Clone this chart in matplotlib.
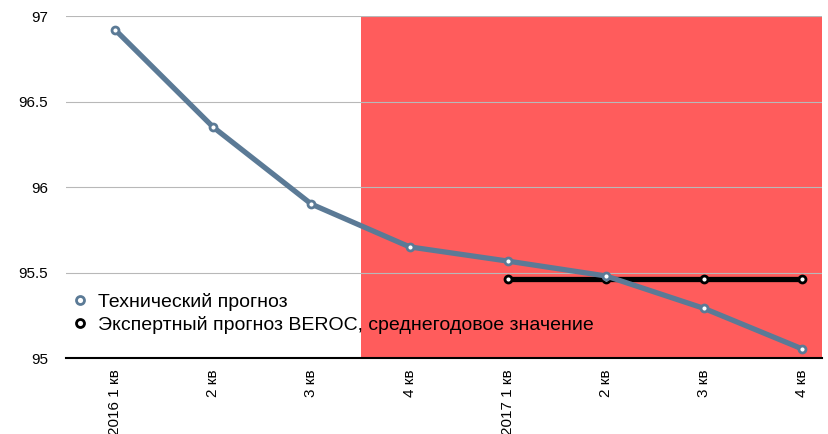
import matplotlib.pyplot as plt

plt.rcParams['font.family'] = ['Liberation Sans', 'DejaVu Sans']

labels = ['2016 1 кв', '2 кв', '3 кв', '4 кв', '2017 1 кв', '2 кв', '3 кв', '4 кв']
tech = [96.92, 96.35, 95.90, 95.65, 95.567, 95.48, 95.29, 95.053]
beroc_x = [4, 5, 6, 7]
beroc = [95.46, 95.46, 95.46, 95.46]

fig = plt.figure(figsize=(8.29, 4.34), dpi=100)
ax = fig.add_axes([0.0796, 0.175, 0.912, 0.788])

ax.axvspan(2.5, 7.2, color='#ff5c5c', zorder=0, lw=0)
for v in [95.5, 96, 96.5, 97]:
    ax.axhline(v, color='#b8b8b8', lw=0.8, zorder=0.5)

ax.plot(range(len(tech)), tech, color='#5b7a96', lw=3.8, marker='o', ms=5,
        mfc='white', mec='#5b7a96', mew=2, label='Технический прогноз', zorder=3)
ax.plot(beroc_x, beroc, color='black', lw=3.8, marker='o', ms=5,
        mfc='white', mec='black', mew=2,
        label='Экспертный прогноз BEROC, среднегодовое значение', zorder=2)

ax.set_xlim(-0.5, 7.2)
ax.set_ylim(95, 97)
ax.set_yticks([95, 95.5, 96, 96.5, 97])
ax.set_yticklabels(['95', '95.5', '96', '96.5', '97'])
ax.set_xticks(range(len(labels)))
ax.set_xticklabels(labels, rotation=90, va='top')
ax.tick_params(axis='both', length=0, labelsize=11)
ax.tick_params(axis='y', pad=13)
ax.tick_params(axis='x', pad=8)
for s in ['top', 'left', 'right']:
    ax.spines[s].set_visible(False)
ax.spines['bottom'].set_linewidth(1.5)
ax.spines['bottom'].set_zorder(4)

leg = ax.legend(loc='lower left', bbox_to_anchor=(-0.012, 0.02), frameon=False,
                fontsize=14, handlelength=0.6, handletextpad=0.6,
                labelspacing=0.25, markerscale=1.15)
for h in leg.legend_handles:
    h.set_linewidth(0)

fig.savefig('out.png', dpi=100)
